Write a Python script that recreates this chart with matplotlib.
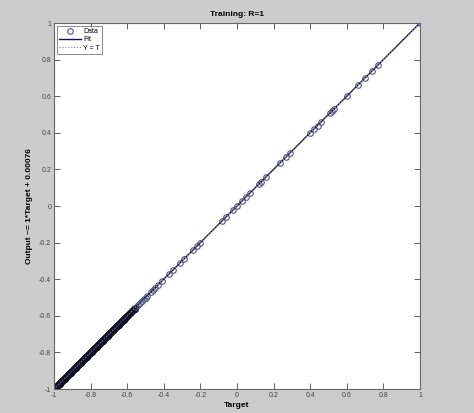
import matplotlib
matplotlib.use("Agg")
import matplotlib.pyplot as plt
import numpy as np

# ── data (targets) ───────────────────────────────────────────────────────────
target_dense = [
    -1.00, -0.9975, -0.995, -0.9925, -0.99, -0.9875, -0.985, -0.9825, -0.98, -0.9775,
    -0.975, -0.9725, -0.97, -0.9675, -0.965, -0.9625, -0.96, -0.9575, -0.955, -0.9525,
    -0.95, -0.9475, -0.945, -0.9425, -0.94, -0.9375, -0.935, -0.9325, -0.93, -0.9275,
    -0.925, -0.9225, -0.92, -0.9175, -0.915, -0.9125, -0.91, -0.9075, -0.905, -0.9025,
    -0.90, -0.8975, -0.895, -0.8925, -0.89, -0.8875, -0.885, -0.8825, -0.88, -0.8775,
    -0.875, -0.8725, -0.87, -0.8675, -0.865, -0.8625, -0.86, -0.8575, -0.855, -0.8525,
    -0.85, -0.8475, -0.845, -0.8425, -0.84, -0.8375, -0.835, -0.8325, -0.83, -0.8275,
    -0.825, -0.8225, -0.82, -0.8175, -0.815, -0.8125, -0.81, -0.8075, -0.805, -0.8025,
    -0.80, -0.7975, -0.795, -0.7925, -0.79, -0.7875, -0.785, -0.7825, -0.78, -0.7775,
    -0.775, -0.7725, -0.77, -0.7675, -0.765, -0.7625, -0.76, -0.7575, -0.755, -0.7525,
    -0.75, -0.7475, -0.745, -0.7425, -0.74, -0.7375, -0.735, -0.7325, -0.73, -0.7275,
    -0.725, -0.7225, -0.72, -0.7175, -0.715, -0.7125, -0.71, -0.7075, -0.705, -0.7025,
    -0.70, -0.6975, -0.695, -0.6925, -0.69, -0.6875, -0.685, -0.6825, -0.68, -0.6775,
    -0.675, -0.6725, -0.67, -0.6675, -0.665, -0.6625, -0.66, -0.6575, -0.655, -0.6525,
    -0.65, -0.6475, -0.645, -0.6425, -0.64, -0.6375, -0.635, -0.6325, -0.63, -0.6275,
    -0.625, -0.6225, -0.62, -0.6175, -0.615, -0.6125, -0.61, -0.6075, -0.605, -0.6025,
    -0.60, -0.595, -0.59, -0.585, -0.58, -0.575, -0.57, -0.565, -0.56, -0.555,
]
target_sparse = [
    -0.55, -0.54, -0.53, -0.52, -0.51, -0.50, -0.49, -0.47, -0.46, -0.45, -0.43,
    -0.41, -0.37, -0.35, -0.31, -0.29, -0.24, -0.22, -0.20, -0.08, -0.06,
    -0.02, 0.00, 0.03, 0.05, 0.07, 0.12, 0.13, 0.16, 0.235, 0.27, 0.29,
    0.40, 0.42, 0.44, 0.46, 0.51, 0.52, 0.53, 0.60, 0.66, 0.70, 0.74, 0.77, 1.00,
]
slope = 1.0
offset = 0.00076

t_dense = np.array(target_dense)
t_sparse = np.array(target_sparse)

# ── plot ─────────────────────────────────────────────────────────────────────
plt.rcParams["font.family"] = ["Liberation Sans", "DejaVu Sans"]
fig = plt.figure(figsize=(4.74, 4.13), dpi=100, facecolor="#cccccc")
ax = fig.add_axes([0.114, 0.058, 0.772, 0.886])

line_x = np.array([-1, 1])
# R = 1: outputs equal targets
ax.plot(t_dense, t_dense, "o", mfc="none", mec="#111122", ms=4, mew=1.1, label="Data")
ax.plot(t_sparse, t_sparse, "o", mfc="none", mec="#55557a", ms=4, mew=0.8)
ax.plot(line_x, slope * line_x + offset, color="#141450", lw=1.0, label="Fit")
ax.plot(line_x, line_x, color="#888888", lw=0.8, ls=":", label="Y = T")

ax.set_xlim(-1, 1)
ax.set_ylim(-1, 1)
ticks = [-1, -0.8, -0.6, -0.4, -0.2, 0, 0.2, 0.4, 0.6, 0.8, 1]
ax.set_xticks(ticks)
ax.set_yticks(ticks)
ax.set_xticklabels([f"{v:g}" for v in ticks])
ax.set_yticklabels([f"{v:g}" for v in ticks])
ax.tick_params(direction="in", top=True, right=True, length=4, width=0.6,
               labelsize=5, colors="#444444", pad=2)
for s in ax.spines.values():
    s.set_color("#666666")
    s.set_linewidth(0.8)

ax.set_title("Training: R=1", fontsize=6, fontweight="bold", pad=5)
ax.set_xlabel("Target", fontsize=6, fontweight="bold", labelpad=2)
ax.set_ylabel("Output ~= 1*Target + 0.00076", fontsize=6, fontweight="bold",
              labelpad=4)

leg = ax.legend(loc="upper left", fontsize=5, frameon=True, fancybox=False,
                edgecolor="#555555", handlelength=3.2, borderpad=0.3,
                labelspacing=0.2, handletextpad=0.3, borderaxespad=0.4)
leg.get_frame().set_linewidth(0.6)
leg.legend_handles[0].set_markeredgecolor("#55557a")
leg.legend_handles[0].set_markeredgewidth(0.8)

plt.savefig("out.png", dpi=100, facecolor=fig.get_facecolor())
